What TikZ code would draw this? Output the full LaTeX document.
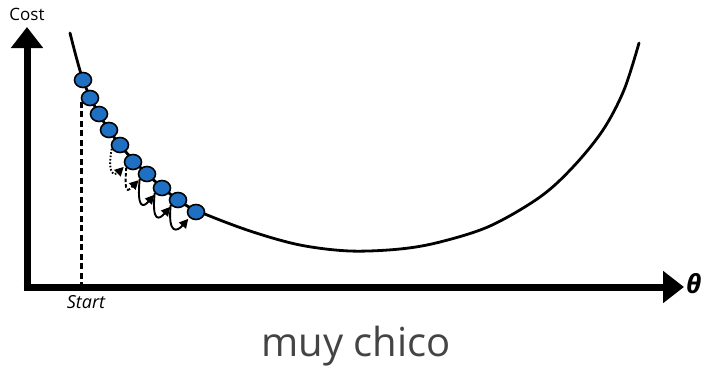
\documentclass[tikz,border=0pt]{standalone}
\usepackage{fontspec}
\setmainfont{Open Sans}
\usetikzlibrary{arrows.meta,shapes.geometric}
\definecolor{dotblue}{HTML}{1F6FC3}
\definecolor{capgray}{HTML}{444444}
\tikzset{
  axisline/.style={line width=7pt, -{Triangle[length=21pt,width=31pt]}},
  costcurve/.style={line width=2.8pt, line cap=round},
  gddot/.style={ellipse, draw=black, line width=1.6pt, fill=dotblue, minimum width=17pt, minimum height=15pt, inner sep=0pt},
  hook/.style={line width=1.9pt, shorten >=1.5pt, -{Triangle[length=9pt,width=9pt]}},
}
\begin{document}
\begin{tikzpicture}[x=1pt,y=-1pt]
\useasboundingbox (0,0) rectangle (706,370);
% axes
\coordinate (ybase) at (27,290.5);
\coordinate (xbase) at (23.5,287);
\coordinate (ytip) at (27,27);
\coordinate (xtip) at (684,287);
\draw[axisline] (ybase) -- (ytip);
\draw[axisline] (xbase) -- (xtip);
\node[font=\fontsize{17}{17}\selectfont] (cost) at (27,14) {Cost};
\node[font=\bfseries\itshape\fontsize{26}{26}\selectfont, anchor=west, inner sep=0pt] (theta) at (686,284) {θ};
% curve
\draw[costcurve] plot[smooth, tension=0.55] coordinates {(70,33) (83,80) (99,114) (120,145) (147,174) (178,200) (200,212) (250,231) (300,245) (350,251) (400,249) (440,242) (490,226) (540,197) (573,167) (603,130) (624,90) (639,43)};
% start
\coordinate (startbase) at (83,290);
\node[font=\itshape\fontsize{18}{18}\selectfont] (start) at (86,302) {Start};
% dots
\node[gddot] (d1) at (83,80) {};
\node[gddot] (d2) at (90,98) {};
\draw[line width=2.8pt, dash pattern=on 6pt off 3.5pt] (d2.205) -- (d2.205 |- startbase);
\node[gddot] (d3) at (99,114) {};
\node[gddot] (d4) at (109,130) {};
\node[gddot] (d5) at (120,145) {};
\node[gddot] (d6) at (133,162) {};
\node[gddot] (d7) at (147,174) {};
\node[gddot] (d8) at (162,188) {};
\node[gddot] (d9) at (178,200) {};
\node[gddot] (d10) at (196,212) {};
% hooks
\draw[hook, dash pattern=on 1.6pt off 1.8pt] (d5.205) .. controls +(-5,26) and +(-10,10) .. (d6.205);
\draw[hook, dash pattern=on 3.5pt off 2pt] (d6.220) .. controls +(-2,28) and +(-12,12) .. (d7.215);
\draw[hook] (d7.215) .. controls +(-3,30) and +(-12,14) .. (d8.220);
\draw[hook] (d8.215) .. controls +(-3,30) and +(-12,14) .. (d9.220);
\draw[hook] (d9.215) .. controls +(-3,30) and +(-12,14) .. (d10.220);
% caption
\node[font=\fontsize{40}{40}\selectfont, text=capgray] (caption) at (356,346) {muy chico};
\end{tikzpicture}
\end{document}
